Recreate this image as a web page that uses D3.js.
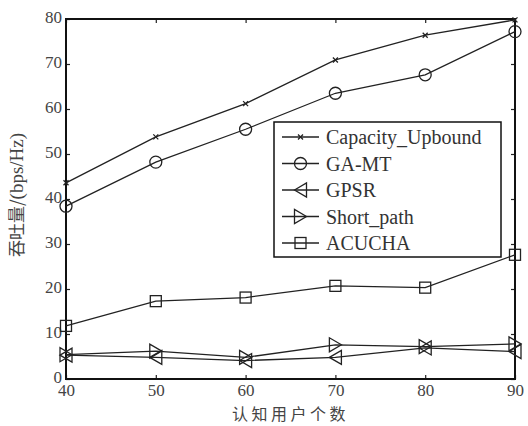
<!DOCTYPE html>
<meta charset='utf-8'>
<style>
body { margin: 0; background: #fff; }
svg { display: block; }
</style>
<body>
<div class='chart'></div>
<script src='https://cdn.jsdelivr.net/npm/d3@7/dist/d3.min.js'></script>
<script>
var users = [40, 50, 60, 70, 80, 90];
var capacityUpbound = [43.6, 53.8, 61.2, 70.9, 76.4, 79.8];
var gaMT = [38.4, 48.2, 55.5, 63.5, 67.6, 77.2];
var gpsr = [5.3, 4.8, 4.1, 4.8, 6.9, 6.1];
var shortPath = [5.4, 6.2, 4.8, 7.6, 7.2, 7.8];
var acucha = [11.8, 17.3, 18.1, 20.7, 20.3, 27.6];
var yTicks = [0, 10, 20, 30, 40, 50, 60, 70, 80];
var seriesNames = ['Capacity_Upbound', 'GA-MT', 'GPSR', 'Short_path', 'ACUCHA'];
var markers = ['cross', 'circle', 'left', 'right', 'square'];

var serif = "'Liberation Serif', 'Times New Roman', 'DejaVu Serif', serif";
var cjk = "'Noto Sans CJK SC', sans-serif";

var series = [capacityUpbound, gaMT, gpsr, shortPath, acucha].map(function(v, i) {
    return { name: seriesNames[i], marker: markers[i], values: v };
});

var width = 528, height = 426;
var margin = { top: 19, right: 13, bottom: 47, left: 66 };
var w = width - margin.left - margin.right,
    h = height - margin.top - margin.bottom;

var svg = d3.select('.chart').append('svg')
    .attr('width', width)
    .attr('height', height);

var g = svg.append('g')
    .attr('transform', 'translate(' + margin.left + ',' + margin.top + ')');

var x = d3.scaleLinear().domain([40, 90]).range([0, w]);
var y = d3.scaleLinear().domain([0, 80]).range([h, 0]);

// axes with inward ticks, mirrored on top and right
g.append('g').attr('transform', 'translate(0,' + h + ')')
    .call(d3.axisBottom(x).tickValues(users).tickSize(-4).tickPadding(5));
g.append('g')
    .call(d3.axisLeft(y).tickValues(yTicks).tickSize(-4).tickPadding(4))
    .selectAll('.tick text').attr('dy', '0.2em');
g.append('g')
    .call(d3.axisTop(x).tickValues(users).tickSize(-4).tickFormat(''));
g.append('g').attr('transform', 'translate(' + w + ',0)')
    .call(d3.axisRight(y).tickValues(yTicks).tickSize(-4).tickFormat(''));

g.selectAll('.domain').remove();
g.selectAll('.tick line').attr('stroke', '#222').attr('stroke-width', 1.2);
g.selectAll('.tick text')
    .style('font-family', serif)
    .style('font-size', '17px')
    .style('fill', '#444');

g.append('rect')
    .attr('width', w).attr('height', h)
    .attr('fill', 'none').attr('stroke', '#111').attr('stroke-width', 2);

var line = d3.line()
    .x(function(d, i) { return x(users[i]); })
    .y(function(d) { return y(d); });

function drawMarker(sel, type) {
    if (type === 'cross') {
        sel.append('path').attr('d', 'M-2.5,-2.5L2.5,2.5M-2.5,2.5L2.5,-2.5');
    } else if (type === 'circle') {
        sel.append('circle').attr('r', 6);
    } else if (type === 'square') {
        sel.append('rect').attr('x', -5.5).attr('y', -5.5).attr('width', 11).attr('height', 11);
    } else if (type === 'left') {
        sel.append('path').attr('d', 'M-6,0L6,-7L6,7Z');
    } else if (type === 'right') {
        sel.append('path').attr('d', 'M6,0L-6,-7L-6,7Z');
    }
}

series.forEach(function(s) {
    g.append('path')
        .datum(s.values)
        .attr('d', line)
        .attr('fill', 'none')
        .attr('stroke', '#222')
        .attr('stroke-width', 1.3);
    g.selectAll(null)
        .data(s.values)
        .enter().append('g')
        .attr('transform', function(d, i) { return 'translate(' + x(users[i]) + ',' + y(d) + ')'; })
        .attr('fill', 'none')
        .attr('stroke', '#222')
        .attr('stroke-width', 1.3)
        .each(function() { drawMarker(d3.select(this), s.marker); });
});

// legend
var legend = svg.append('g')
    .attr('transform', 'translate(274,122)');
legend.append('rect')
    .attr('width', 227).attr('height', 135)
    .attr('fill', '#fff').attr('stroke', '#111').attr('stroke-width', 1.5);
series.forEach(function(s, i) {
    var row = legend.append('g').attr('transform', 'translate(0,' + (15 + i * 26.5) + ')');
    row.append('line').attr('x1', 8).attr('x2', 45)
        .attr('stroke', '#222').attr('stroke-width', 1.3);
    var m = row.append('g').attr('transform', 'translate(26.5,0)')
        .attr('fill', 'none').attr('stroke', '#222').attr('stroke-width', 1.3);
    drawMarker(m, s.marker);
    row.append('text').attr('x', 52).attr('dy', '0.35em')
        .style('font-family', serif)
        .style('font-size', '20px')
        .style('fill', '#333')
        .text(s.name);
});

svg.append('text')
    .attr('x', margin.left + w / 2)
    .attr('y', 420)
    .attr('text-anchor', 'middle')
    .style('font-family', cjk)
    .style('font-size', '16px')
    .style('letter-spacing', '3.5px')
    .style('fill', '#444')
    .text('认知用户个数');

var yTitle = svg.append('text')
    .attr('transform', 'translate(23,' + 195 + ') rotate(-90)')
    .attr('text-anchor', 'middle')
    .style('fill', '#444');
yTitle.append('tspan')
    .style('font-family', cjk).style('font-size', '17px')
    .text('吞吐量/');
yTitle.append('tspan')
    .style('font-family', serif).style('font-size', '19px')
    .text('(bps/Hz)');
</script>
</body>
